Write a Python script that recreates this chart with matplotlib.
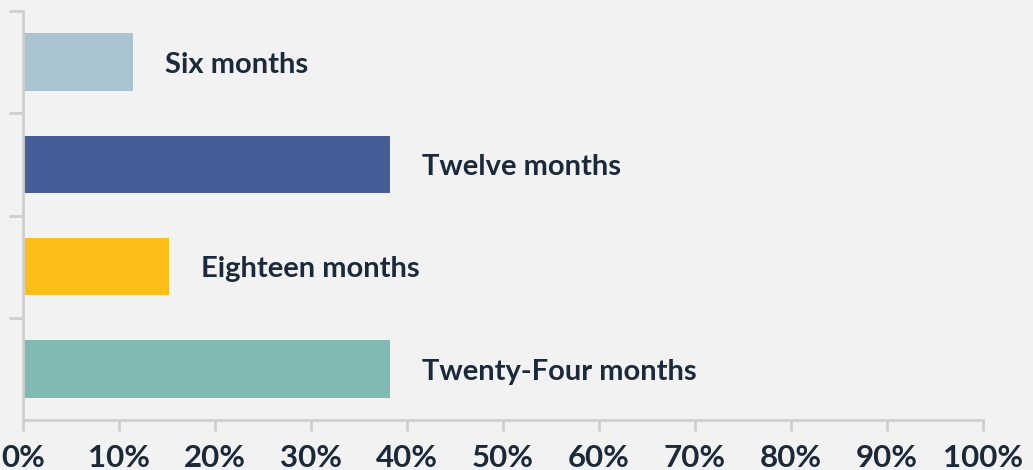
import numpy as np
import matplotlib
matplotlib.use("Agg")
from matplotlib import pyplot as plt
from matplotlib.ticker import FuncFormatter

# data
categories = ['Six months', 'Twelve months', 'Eighteen months', 'Twenty-Four months']
values = [11.5, 38.3, 15.2, 38.3]
colors = ['#aac3d1', '#455e97', '#fcbf19', '#80bab3']
xticks = np.arange(0, 101, 10)

bg = '#f2f2f2'
txt = '#1b2a3a'
grey = '#cfcfcf'

plt.rcParams['font.family'] = ['Lato', 'DejaVu Sans']

fig = plt.figure(figsize=(10.33, 4.70), dpi=100, facecolor=bg)
ax = fig.add_axes([22.7/1033, 1-420/470, (983-22.7)/1033, (420-11)/470])
ax.set_facecolor(bg)

pos = np.arange(len(categories))
ax.barh(pos, values, height=0.56, color=colors)

for p, v, lab in zip(pos, values, categories):
    ax.annotate(lab, (v, p), xytext=(23, -2), textcoords='offset points',
                va='center', ha='left', fontsize=21, fontweight='bold', color=txt)

ax.set_xlim(0, 100)
ax.set_ylim(len(categories)-0.5, -0.5)
ax.set_xticks(xticks)
ax.xaxis.set_major_formatter(FuncFormatter(lambda x, _: '{:.0f}%'.format(x)))
ax.set_yticks(np.arange(-0.5, len(categories)-0.5, 1.0))
ax.set_yticklabels([])

for s in ['top', 'right']:
    ax.spines[s].set_visible(False)
for s in ['left', 'bottom']:
    ax.spines[s].set_color(grey)
    ax.spines[s].set_linewidth(2)

ax.tick_params(axis='x', length=8, width=2, color=grey, pad=9,
               labelsize=22.5, labelcolor=txt)
ax.tick_params(axis='y', length=10, width=2, color=grey)
for t in ax.get_xticklabels():
    t.set_fontweight('bold')

fig.savefig('out.png', dpi=100, facecolor=bg)
